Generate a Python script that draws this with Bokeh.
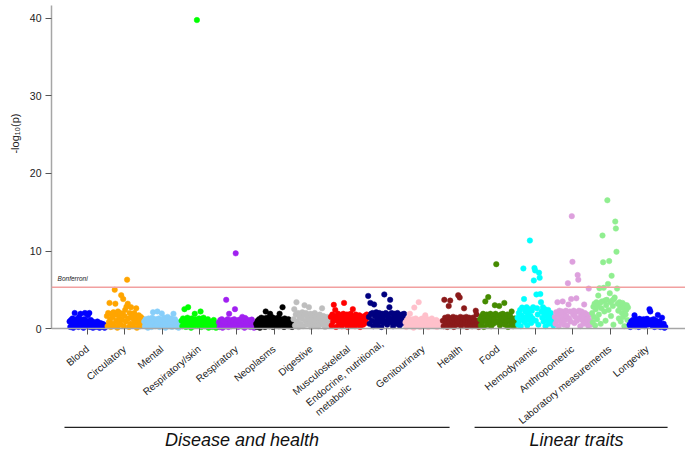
import math
from bokeh.plotting import figure
from bokeh.models import ColumnDataSource, FixedTicker, Span, Label, Range1d, LinearAxis, Title
from bokeh.core.properties import value
from bokeh.embed import file_html
from bokeh.resources import INLINE

# ---------------- data ----------------
categories = ["Blood", "Circulatory", "Mental", "Respiratory/skin", "Respiratory",
              "Neoplasms", "Digestive", "Musculoskeletal",
              "Endocrine, nutritional,\nmetabolic" + "\u00a0" * 19, "Genitourinary", "Health",
              "Food", "Hemodynamic", "Anthropometric", "Laboratory measurements",
              "Longevity"]
colors = ["#0000FF", "#FFA500", "#87CEFA", "#00FF00", "#A020F0", "#000000",
          "#BEBEBE", "#FF0000", "#000080", "#FFC0CB", "#8B1A1A", "#458B00",
          "#00FFFF", "#DDA0DD", "#90EE90", "#0000FF"]
groups = ["Disease and health", "Linear traits"]
group_first = [0, 11]
group_last = [10, 15]
bonferroni = 5.33
y_ticks = [0, 10, 20, 30, 40]

blood = [0.9,0.2,1.1,0.5,1.3,0.1,0.8,2.0,0.4,1.2,0.6,1.0,0.2,1.5,0.7,1.9,0.3,1.1,0.9,0.1,
         1.2,2.0,0.5,1.0,0.3,1.7,0.8,2.0,0.2,1.1,0.6,0.9,0.1,0.8,0.4,0.7,0.2,0.6,0.9,0.3,
         0.5,0.1,0.7,0.4,0.3,0.6,0.2,0.5,0.1,0.3]
circulatory = [1.6,0.3,2.0,0.8,3.3,1.2,0.2,1.9,0.6,1.5,2.1,0.4,5.0,3.2,1.0,1.8,0.1,2.2,0.7,1.4,
               2.0,0.5,4.3,1.1,1.9,3.8,0.3,1.6,2.4,0.9,2.8,6.3,3.2,1.3,0.2,2.0,0.6,2.75,1.5,1.8,
               0.4,1.2,2.0,0.8,1.6,2.6,0.1,1.4,0.7,1.7,1.0,0.3,1.5,0.9,1.3,0.5]
mental = [0.9,0.3,1.2,0.6,1.0,0.1,1.3,0.8,0.4,1.1,0.2,1.4,2.1,0.7,1.0,0.3,1.2,0.5,2.2,0.9,
          1.3,0.2,1.0,0.6,1.95,1.1,0.4,1.4,0.8,0.1,1.2,0.5,1.5,0.9,0.3,1.1,0.7,1.3,0.2,1.0,
          1.9,0.6,1.2,0.4,0.9,0.2,0.6,0.1,0.3,0.5]
respiratory_skin = [1.0,0.3,1.3,0.6,2.5,1.1,0.2,0.9,1.4,2.75,0.5,1.2,0.8,0.1,1.3,0.6,1.0,0.3,1.9,1.2,
                    0.7,39.8,1.1,0.4,1.3,0.9,2.2,0.2,1.2,0.6,1.4,1.0,0.3,1.1,0.8,0.5,1.2,0.1,0.9,0.6,
                    0.4,0.8,0.2,0.5,1.1,0.3,0.6,0.1,0.4,0.2]
respiratory = [0.8,0.2,1.1,0.5,1.2,0.1,0.9,0.4,1.0,0.3,3.7,0.7,1.2,0.2,1.9,0.6,1.0,0.3,1.1,0.8,
               0.4,1.2,2.5,9.7,0.6,1.0,0.2,1.1,0.5,0.9,1.2,0.3,1.5,0.7,1.0,0.1,1.35,0.6,0.9,0.3,
               1.1,0.5,0.8,0.2,0.6,1.15,0.4,0.7,0.1,0.3]
neoplasms = [0.6,0.2,1.0,0.4,1.2,0.1,0.8,1.4,0.3,1.1,0.6,1.3,0.2,2.2,0.9,1.4,0.5,1.1,0.3,1.9,
             1.2,0.7,1.45,0.2,1.0,0.6,1.3,0.4,1.1,0.9,1.4,0.3,1.9,0.8,1.2,0.5,2.75,1.0,0.2,1.3,
             0.6,1.1,0.4,0.9,1.2,0.3,1.0,0.6,0.8,0.2]
digestive = [1.2,2.5,0.4,1.8,3.4,0.9,2.0,0.2,1.5,1.9,0.6,1.3,2.1,0.3,1.7,3.0,1.0,2.0,0.5,1.6,
             1.2,2.75,0.8,1.9,0.2,1.4,1.8,0.6,1.1,2.0,0.4,1.5,0.9,1.7,0.3,1.3,1.8,0.7,1.0,2.6,
             0.5,1.6,1.2,0.2,1.4,0.8,1.5,0.4,1.1,0.6]
musculoskeletal = [1.5,0.4,1.8,0.9,3.05,1.3,2.4,0.2,1.6,1.0,1.9,0.5,1.4,0.8,1.7,0.3,1.2,1.9,3.3,0.6,
                   1.5,1.0,1.8,0.2,1.3,0.7,1.6,1.9,0.4,1.1,2.5,0.9,1.5,0.3,1.8,1.2,0.6,1.4,1.0,1.7,
                   0.2,1.3,0.8,1.5,0.5,1.1,1.6,0.7,1.2,1.8]
endocrine = [4.2,1.5,0.6,3.3,1.9,1.0,2.0,0.3,3.1,1.6,0.8,2.1,1.2,0.4,1.8,2.0,0.9,1.5,0.2,1.9,
             1.3,0.7,4.4,1.7,2.0,1.0,0.5,1.8,1.4,2.75,3.7,0.8,2.0,1.2,0.3,1.6,1.9,0.9,1.4,0.6,
             2.0,1.1,1.7,0.4,1.5,1.0,1.8,0.7,1.3,1.9]
genitourinary = [0.8,0.2,1.1,0.5,1.3,0.9,1.9,0.3,1.0,0.6,1.2,0.1,2.7,0.8,1.3,0.4,1.1,0.7,3.4,1.0,
                 0.2,1.2,0.6,1.3,0.9,0.3,1.1,1.7,0.5,1.0,1.2,0.2,0.8,1.1,0.4,0.9,1.3,0.6,1.0,0.3,
                 0.8,0.5,1.1,0.2,0.7,0.9,0.4,0.6,0.8,0.3]
health = [1.0,0.3,3.7,1.4,0.6,1.2,0.2,1.5,2.9,0.8,3.6,1.3,0.4,1.0,1.5,0.2,1.2,0.7,1.4,0.5,
          1.1,4.3,0.9,4.0,1.5,0.3,1.2,0.8,1.4,2.6,0.6,1.1,1.5,0.2,1.3,0.9,1.4,0.5,1.0,1.2,
          0.3,1.4,0.8,1.1,0.4,2.3,1.8,0.7,1.0,0.2]
food = [1.2,0.4,1.6,0.8,1.9,0.2,1.4,3.5,1.0,1.8,0.5,4.05,1.5,0.9,1.9,0.3,1.3,1.7,0.6,1.2,
        3.0,1.9,8.3,0.8,1.6,1.0,2.9,0.4,1.8,1.3,0.7,1.9,1.1,3.3,0.5,1.5,0.9,1.8,0.2,1.4,
        1.0,1.6,0.6,2.2,1.2,0.3,1.0,1.3,0.7,0.5]
hemodynamic = [1.4,0.5,2.0,1.0,2.4,0.3,1.7,2.7,1.2,7.75,3.8,0.8,2.2,1.5,2.75,0.4,1.9,1.1,2.5,11.35,
               1.6,0.7,2.3,1.3,2.75,6.2,7.8,7.5,1.0,4.4,2.6,1.8,0.5,7.2,6.55,4.45,3.4,2.2,1.4,2.75,
               0.9,1.9,2.5,0.3,1.6,2.1,1.1,2.4,0.6,1.8,1.3,2.0,0.8,1.5,1.1,0.4]
anthropometric = [1.5,0.6,2.1,1.0,3.4,1.7,0.3,2.3,1.2,1.9,0.8,2.2,3.5,1.4,0.5,2.0,1.1,2.3,1.6,0.4,
                  5.85,3.1,1.3,2.2,0.9,3.8,14.5,8.6,1.8,2.3,0.7,1.5,2.1,3.9,1.0,6.9,6.3,2.3,1.4,0.3,
                  1.9,2.2,1.1,1.7,0.6,3.1,2.0,1.3,0.8,1.8,1.2,0.4,5.15,1.7,1.0,0.5]
laboratory = [2.0,0.8,2.8,1.5,3.2,0.4,2.5,3.4,1.2,2.9,4.25,1.8,5.2,3.3,0.6,2.6,3.5,12.0,8.55,5.25,
              2.2,3.6,1.0,3.0,3.7,16.55,5.75,2.4,8.7,4.55,3.4,1.6,6.8,3.6,2.9,0.5,3.8,4.0,13.8,12.9,
              9.9,5.15,3.2,2.3,1.3,3.4,2.7,0.9,3.1,2.0,3.3,1.5,2.6,0.3,3.0,1.8,2.4,3.0,1.1,2.7]
longevity = [0.5,0.2,0.9,0.4,1.1,0.7,1.7,0.3,1.2,0.6,1.0,0.2,1.25,0.8,0.4,1.1,0.6,1.2,0.3,0.9,
             1.0,1.25,0.5,0.8,2.5,2.2,1.1,0.4,0.9,1.2,0.2,0.7,1.0,0.3,1.75,0.6,0.9,0.2,0.5,1.4,
             0.3,0.6,0.1,0.2]

series = [blood, circulatory, mental, respiratory_skin, respiratory, neoplasms, digestive,
          musculoskeletal, endocrine, genitourinary, health, food, hemodynamic,
          anthropometric, laboratory, longevity]

# --------------- build source (x = category slot + order within category) ---------------
xs, ys, cs = [], [], []
for i, (vals, col) in enumerate(zip(series, colors)):
    n = len(vals)
    for k, v in enumerate(vals):
        xs.append(i - 0.48 + 0.96 * k / (n - 1))
        ys.append(v)
        cs.append(col)
src = ColumnDataSource(dict(x=xs, y=ys, c=cs))

FONT = "Liberation Sans"
AXIS_GREY = "#a6a6a6"
Y_TOP = 42.32

p = figure(width=685, height=449, x_range=Range1d(-0.964, 16.02), y_range=Range1d(-15.61, Y_TOP),
           output_backend="svg", toolbar_location=None,
           x_axis_location=None, y_axis_location=None,
           min_border_left=51, min_border_right=0, min_border_top=0, min_border_bottom=0)
p.outline_line_color = None
p.grid.visible = False

# y axis (ticks + numbers)
yaxis = LinearAxis(ticker=FixedTicker(ticks=y_ticks), bounds=(0, 41.7))
yaxis.axis_line_color = AXIS_GREY
yaxis.axis_line_width = 1.5
yaxis.major_tick_line_color = "#555555"
yaxis.major_tick_out = 6
yaxis.major_tick_in = 0
yaxis.minor_tick_line_color = None
yaxis.major_label_text_font = FONT
yaxis.major_label_text_font_size = "10.5px"
yaxis.major_label_text_color = "#222222"
yaxis.major_label_standoff = 4
p.add_layout(yaxis, "left")

# y axis title
p.add_layout(Title(text="-log\u2081\u2080(p)", align="right", offset=113, standoff=12,
                   text_font=FONT, text_font_style="normal", text_font_size="11px",
                   text_color="#222222"), "left")

# x axis at y = 0
xaxis = LinearAxis(ticker=FixedTicker(ticks=list(range(len(categories)))),
                   major_label_overrides={i: c for i, c in enumerate(categories)},
                   fixed_location=0)
xaxis.axis_line_color = AXIS_GREY
xaxis.axis_line_width = 1.5
xaxis.major_tick_line_color = "#555555"
xaxis.major_tick_out = 6
xaxis.major_tick_in = 0
xaxis.minor_tick_line_color = None
xaxis.major_label_orientation = 0.69
xaxis.major_label_text_font = FONT
xaxis.major_label_text_font_size = "10px"
xaxis.major_label_text_color = "#222222"
xaxis.major_label_standoff = 13
p.add_layout(xaxis, "below")

# Bonferroni threshold
p.add_layout(Span(location=bonferroni, dimension="width", line_color="#f2a0a0", line_width=1.6))
p.add_layout(Label(x=-0.80, y=bonferroni + 0.72, text="Bonferroni", text_font=FONT,
                   text_font_style="italic", text_font_size="6.5px", text_color="#222222"))

# points
p.scatter("x", "y", source=src, size=5.5, fill_color="c", line_color="c", line_width=0.5)

# group brackets
gx0 = [group_first[0] - 0.616, group_first[1] - 0.63]
gx1 = [group_last[0] - 0.30, group_last[1] + 0.54]
p.segment(x0=gx0, y0=[-12.75, -12.75], x1=gx1, y1=[-12.75, -12.75], line_color="#222222", line_width=1.2)
p.text(x=[4.14, 13.1], y=[-14.32, -14.32], text=groups,
       text_font=value(FONT), text_font_style="italic", text_font_size="18px",
       text_align="center", text_baseline="alphabetic", text_color="#111111")

open("out.html", "w").write(file_html(p, INLINE))
